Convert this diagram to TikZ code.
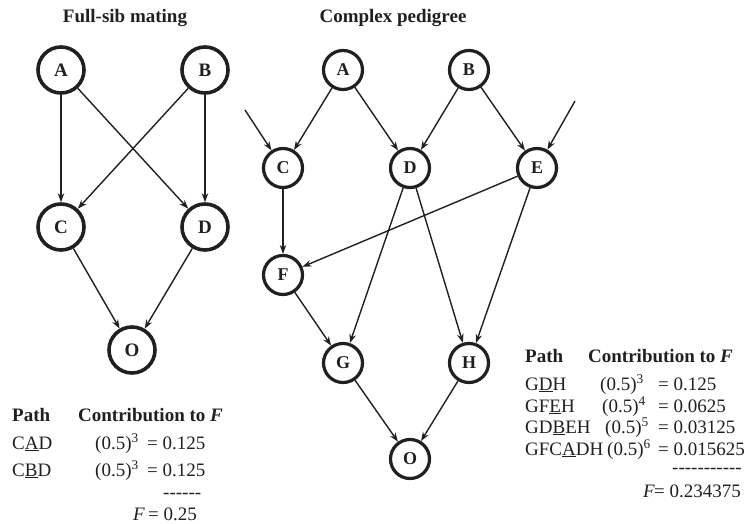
\documentclass[tikz,border=0pt]{standalone}
\usepackage{fontspec}
\setmainfont{Liberation Serif}
\usetikzlibrary{arrows.meta}
\definecolor{ink}{RGB}{35,31,32}
\newcommand{\hy}{-\kern0pt}
\begin{document}
\begin{tikzpicture}[x=1pt,y=-1pt,
  pnodeL/.style={circle,draw=ink,text=ink,line width=3.6pt,minimum size=46pt,inner sep=0pt,font=\fontsize{19}{19}\selectfont\bfseries},
  pnodeR/.style={circle,draw=ink,text=ink,line width=3.2pt,minimum size=39pt,inner sep=0pt,font=\fontsize{18}{18}\selectfont\bfseries},
  arr/.style={draw=ink,-{Stealth[length=9pt,width=6.5pt]},line width=1.4pt},
  txt/.style={anchor=base west,inner sep=0pt,text=ink,font=\fontsize{19}{23}\selectfont},
  ttl/.style={anchor=base,inner sep=0pt,text=ink,font=\fontsize{19}{23}\selectfont\bfseries}]
\useasboundingbox (0,0) rectangle (748,524);

% titles
\node[ttl] (t1) at (125,23) {Full-sib mating};
\node[ttl] (t2) at (393,23) {Complex pedigree};

% left pedigree
\node[pnodeL] (LA) at (61,70) {A};
\node[pnodeL] (LB) at (205,70) {B};
\node[pnodeL] (LC) at (61,227) {C};
\node[pnodeL] (LD) at (205,227) {D};
\node[pnodeL] (LO) at (132,350) {O};
\draw[arr] (LA) -- (LC);
\draw[arr] (LA) -- (LD);
\draw[arr] (LB) -- (LC);
\draw[arr] (LB) -- (LD);
\draw[arr] (LC) -- (LO);
\draw[arr] (LD) -- (LO);

% right pedigree
\node[pnodeR] (RA) at (343,70) {A};
\node[pnodeR] (RB) at (469,70) {B};
\node[pnodeR] (RC) at (283,168) {C};
\node[pnodeR] (RD) at (410,168) {D};
\node[pnodeR] (RE) at (537,168) {E};
\node[pnodeR] (RF) at (283,275) {F};
\node[pnodeR] (RG) at (343,363) {G};
\node[pnodeR] (RH) at (469,363) {H};
\node[pnodeR] (RO) at (410,459) {O};
\coordinate (x1) at (245,110);
\coordinate (x2) at (575,101);
\draw[arr] (x1) -- (RC);
\draw[arr] (x2) -- (RE);
\draw[arr] (RA) -- (RC);
\draw[arr] (RA) -- (RD);
\draw[arr] (RB) -- (RD);
\draw[arr] (RB) -- (RE);
\draw[arr] (RC) -- (RF);
\draw[arr] (RE) -- (RF);
\draw[arr] (RD) -- (RG);
\draw[arr] (RD) -- (RH);
\draw[arr] (RF) -- (RG);
\draw[arr] (RE) -- (RH);
\draw[arr] (RG) -- (RO);
\draw[arr] (RH) -- (RO);

% left table
\node[txt] (lp) at (12,421) {\textbf{Path}};
\node[txt] (lc) at (78,421) {\textbf{Contribution to \textit{F}}};
\node[txt] (l1a) at (12,449) {C\underline{A}D};
\node[txt] (l1b) at (95,449) {(0.5)\textsuperscript{3}};
\node[txt] (l1c) at (147,449) {= 0.125};
\node[txt] (l2a) at (12,476) {C\underline{B}D};
\node[txt] (l2b) at (95,476) {(0.5)\textsuperscript{3}};
\node[txt] (l2c) at (147,476) {= 0.125};
\node[txt] (l3) at (163,498) {\hy\hy\hy\hy\hy\hy};
\node[txt] (l4a) at (133,520) {\textit{F}};
\node[txt] (l4b) at (148,520) {= 0.25};

% right table
\node[txt] (rp) at (525,362) {\textbf{Path}};
\node[txt] (rc) at (588,362) {\textbf{Contribution to \textit{F}}};
\node[txt] (r1a) at (525,390) {G\underline{D}H};
\node[txt] (r1b) at (600,390) {(0.5)\textsuperscript{3}};
\node[txt] (r1c) at (658,390) {= 0.125};
\node[txt] (r2a) at (525,412) {GF\underline{E}H};
\node[txt] (r2b) at (602,412) {(0.5)\textsuperscript{4}};
\node[txt] (r2c) at (658,412) {= 0.0625};
\node[txt] (r3a) at (525,433) {GD\underline{B}EH};
\node[txt] (r3b) at (605,433) {(0.5)\textsuperscript{5}};
\node[txt] (r3c) at (658,433) {= 0.03125};
\node[txt] (r4a) at (525,455) {GFC\underline{A}DH};
\node[txt] (r4b) at (607,455) {(0.5)\textsuperscript{6}};
\node[txt] (r4c) at (658,455) {= 0.015625};
\node[txt] (r5) at (672,473) {\hy\hy\hy\hy\hy\hy\hy\hy\hy\hy\hy};
\node[txt] (r6a) at (643,497) {\textit{F}};
\node[txt] (r6b) at (654,497) {= 0.234375};
\end{tikzpicture}
\end{document}
